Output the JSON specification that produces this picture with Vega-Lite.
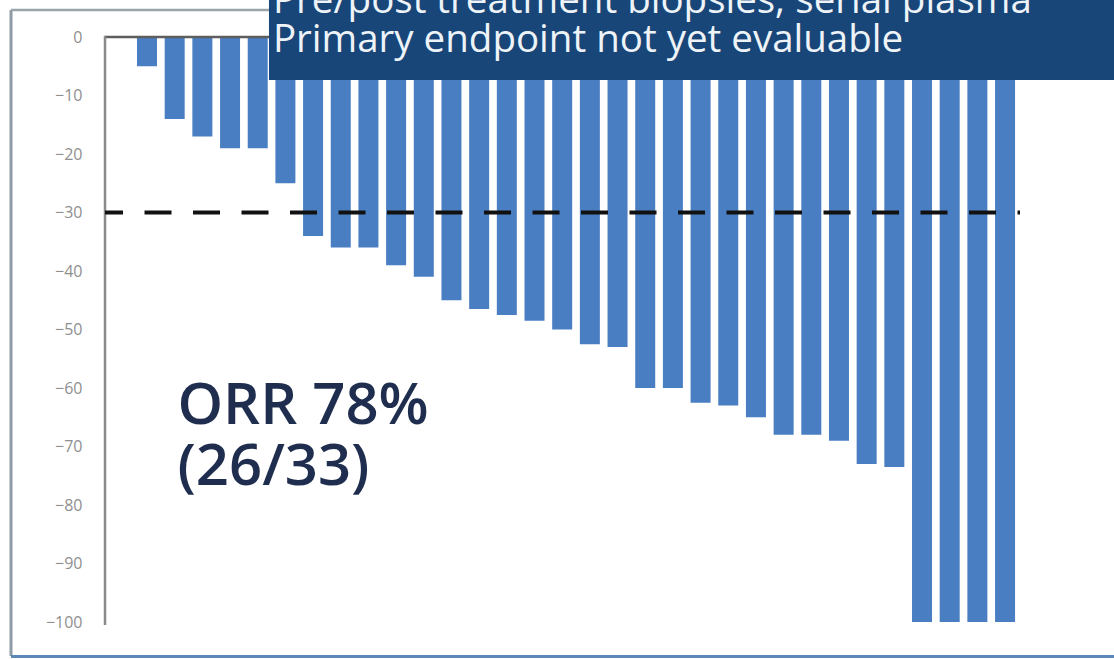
{
  "$schema": "https://vega.github.io/schema/vega-lite/v6.json",
  "width": 1114,
  "height": 659,
  "autosize": {"type": "none"},
  "padding": 0,
  "background": "#ffffff",
  "config": {
    "view": {"stroke": null},
    "axisY": {"domain": false, "ticks": false, "grid": false, "labelPadding": 23, "labelColor": "#8f8f8f", "labelFontSize": 16, "labelFont": "Open Sans", "offset": -105, "title": null}
  },
  "datasets": {
    "bars": [
      {"patient": 1, "change": -5},
      {"patient": 2, "change": -14},
      {"patient": 3, "change": -17},
      {"patient": 4, "change": -19},
      {"patient": 5, "change": -19},
      {"patient": 6, "change": -25},
      {"patient": 7, "change": -34},
      {"patient": 8, "change": -36},
      {"patient": 9, "change": -36},
      {"patient": 10, "change": -39},
      {"patient": 11, "change": -41},
      {"patient": 12, "change": -45},
      {"patient": 13, "change": -46.5},
      {"patient": 14, "change": -47.5},
      {"patient": 15, "change": -48.5},
      {"patient": 16, "change": -50},
      {"patient": 17, "change": -52.5},
      {"patient": 18, "change": -53},
      {"patient": 19, "change": -60},
      {"patient": 20, "change": -60},
      {"patient": 21, "change": -62.5},
      {"patient": 22, "change": -63},
      {"patient": 23, "change": -65},
      {"patient": 24, "change": -68},
      {"patient": 25, "change": -68},
      {"patient": 26, "change": -69},
      {"patient": 27, "change": -73},
      {"patient": 28, "change": -73.5},
      {"patient": 29, "change": -100},
      {"patient": 30, "change": -100},
      {"patient": 31, "change": -100},
      {"patient": 32, "change": -100}
    ]
  },
  "layer": [
    {
      "data": {"values": [{"x": -3.913, "y": 4.616, "y2": -105.81}]},
      "mark": {"type": "rule", "color": "#8f9ca5", "strokeWidth": 3},
      "encoding": {
        "x": {"field": "x", "type": "quantitative", "scale": {"domain": [-4.311, 35.936], "nice": false, "zero": false, "padding": 0}, "axis": null},
        "y": {"field": "y", "type": "quantitative", "title": null, "scale": {"domain": [-106.32, 6.325], "nice": false, "zero": false, "padding": 0}, "axis": {"values": [0, -10, -20, -30, -40, -50, -60, -70, -80, -90, -100]}},
        "y2": {"field": "y2"}
      }
    },
    {
      "data": {"values": [{"x": -3.913, "x2": 35.936, "y": 4.616}]},
      "mark": {"type": "rule", "color": "#9aa4ab", "strokeWidth": 2.5},
      "encoding": {
        "x": {"field": "x", "type": "quantitative", "axis": null},
        "x2": {"field": "x2"},
        "y": {"field": "y", "type": "quantitative", "title": null}
      }
    },
    {
      "data": {"values": [{"x": -3.913, "x2": 35.936, "y": -105.9}]},
      "mark": {"type": "rule", "color": "#5b87b9", "strokeWidth": 3},
      "encoding": {
        "x": {"field": "x", "type": "quantitative", "axis": null},
        "x2": {"field": "x2"},
        "y": {"field": "y", "type": "quantitative", "title": null}
      }
    },
    {
      "data": {"name": "bars"},
      "mark": {"type": "bar", "color": "#4a7ec3", "width": 20, "orient": "vertical"},
      "encoding": {
        "x": {"field": "patient", "type": "quantitative", "axis": null},
        "y": {"field": "change", "type": "quantitative", "title": null},
        "y2": {"datum": 0}
      }
    },
    {
      "data": {"values": [{"x": -0.517, "x2": 33.6, "y": 0}]},
      "mark": {"type": "rule", "color": "#5e5e5e", "strokeWidth": 2.5},
      "encoding": {
        "x": {"field": "x", "type": "quantitative", "axis": null},
        "x2": {"field": "x2"},
        "y": {"field": "y", "type": "quantitative", "title": null}
      }
    },
    {
      "data": {"values": [{"x": -0.517, "y": 0.2, "y2": -100.5}]},
      "mark": {"type": "rule", "color": "#8a8a8a", "strokeWidth": 2.5},
      "encoding": {
        "x": {"field": "x", "type": "quantitative", "axis": null},
        "y": {"field": "y", "type": "quantitative", "title": null},
        "y2": {"field": "y2"}
      }
    },
    {
      "data": {"values": [{"x": -0.517, "x2": 32.54, "y": -30}]},
      "mark": {"type": "rule", "color": "#111111", "strokeWidth": 4, "strokeDash": [27, 21.5], "strokeDashOffset": 9},
      "encoding": {
        "x": {"field": "x", "type": "quantitative", "axis": null},
        "x2": {"field": "x2"},
        "y": {"field": "y", "type": "quantitative", "title": null}
      }
    },
    {
      "data": {"values": [{"x": 2.1, "y": -66.2, "text": "ORR 78%"}, {"x": 2.1, "y": -76.6, "text": "(26/33)"}]},
      "mark": {"type": "text", "align": "left", "baseline": "alphabetic", "font": "Open Sans", "fontSize": 58, "fontWeight": 600, "color": "#1f2e4f"},
      "encoding": {
        "x": {"field": "x", "type": "quantitative", "axis": null},
        "y": {"field": "y", "type": "quantitative", "title": null},
        "text": {"field": "text"}
      }
    },
    {
      "data": {"values": [{"x": 5.407, "x2": 35.936, "y": 6.325, "y2": -7.35}]},
      "mark": {"type": "rect", "color": "#184679"},
      "encoding": {
        "x": {"field": "x", "type": "quantitative", "axis": null},
        "x2": {"field": "x2"},
        "y": {"field": "y", "type": "quantitative", "title": null},
        "y2": {"field": "y2"}
      }
    },
    {
      "data": {"values": [{"x": 5.55, "y": 4.1, "text": "Pre/post treatment biopsies; serial plasma"}, {"x": 5.55, "y": -2.56, "text": "Primary endpoint not yet evaluable"}]},
      "mark": {"type": "text", "align": "left", "baseline": "alphabetic", "font": "Open Sans", "fontSize": 38.5, "color": "#eef3f8"},
      "encoding": {
        "x": {"field": "x", "type": "quantitative", "axis": null},
        "y": {"field": "y", "type": "quantitative", "title": null},
        "text": {"field": "text"}
      }
    }
  ]
}
